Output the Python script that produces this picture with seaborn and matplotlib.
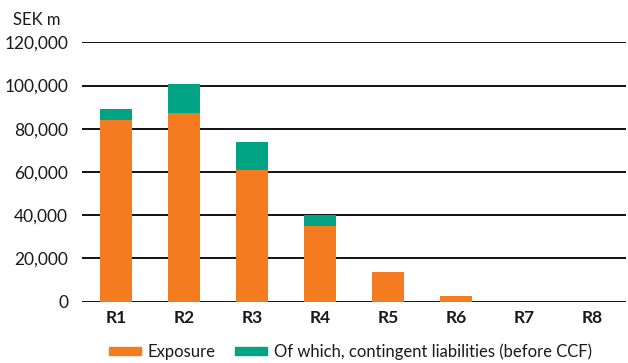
# %%
# Bibliotecas
import pandas as pd
import matplotlib.pyplot as plt
import seaborn as sns
from matplotlib.patches import Patch
from matplotlib.ticker import FuncFormatter

# %%
# Dados
categorias = ['R1', 'R2', 'R3', 'R4', 'R5', 'R6', 'R7', 'R8']
exposicao = [84000, 87300, 60900, 35100, 13700, 2500, 0, 0]
contingente = [5000, 13400, 13000, 5000, 0, 0, 0, 0]

cor_exposicao = '#F47B20'
cor_contingente = '#00A383'

df = pd.DataFrame({
    'rating': categorias,
    'Exposure': exposicao,
    'Total': [e + c for e, c in zip(exposicao, contingente)],
})

# %%
# Configurações
sns.set_theme(style='white')
plt.rcParams['font.family'] = ['Lato', 'DejaVu Sans']

fig = plt.figure(figsize=(6.28, 3.63), dpi=100)
ax = fig.add_axes([0.1306, 0.169, 0.866, 0.7145])

# Total (verde) por trás, exposição (laranja) por cima
sns.barplot(data=df, x='rating', y='Total', color=cor_contingente,
            width=0.46, saturation=1, linewidth=0, ax=ax)
sns.barplot(data=df, x='rating', y='Exposure', color=cor_exposicao,
            width=0.46, saturation=1, linewidth=0, ax=ax)

ax.set_ylim(0, 120000)
ax.set_xlim(-0.5, len(categorias) - 0.5)
ax.set_yticks(range(0, 120001, 20000))
ax.yaxis.set_major_formatter(FuncFormatter(lambda v, p: f'{int(v):,}'))
ax.yaxis.grid(True, color='#111111', linewidth=1.4)
ax.set_axisbelow(True)
for s in ax.spines.values():
    s.set_visible(False)

ax.tick_params(axis='y', length=0, pad=10, labelsize=12.5, labelcolor='#1a1a1a')
ax.tick_params(axis='x', length=0, pad=6, labelsize=12.5, labelcolor='#1a1a1a')
for lbl in ax.get_xticklabels():
    lbl.set_fontweight('bold')
ax.set_xlabel('')
ax.set_ylabel('')

fig.text(0.02, 0.945, 'SEK m', fontsize=12, color='#1a1a1a', ha='left', va='center')

handles = [Patch(color=cor_exposicao, label='Exposure'),
           Patch(color=cor_contingente, label='Of which, contingent liabilities (before CCF)')]
fig.legend(handles=handles, loc='center', bbox_to_anchor=(0.558, 0.03), ncol=2,
           frameon=False, fontsize=12, handlelength=1.9, handleheight=0.35,
           handletextpad=0.4, columnspacing=1.2, labelcolor='#1a1a1a')

fig.savefig('out.png', dpi=100)
